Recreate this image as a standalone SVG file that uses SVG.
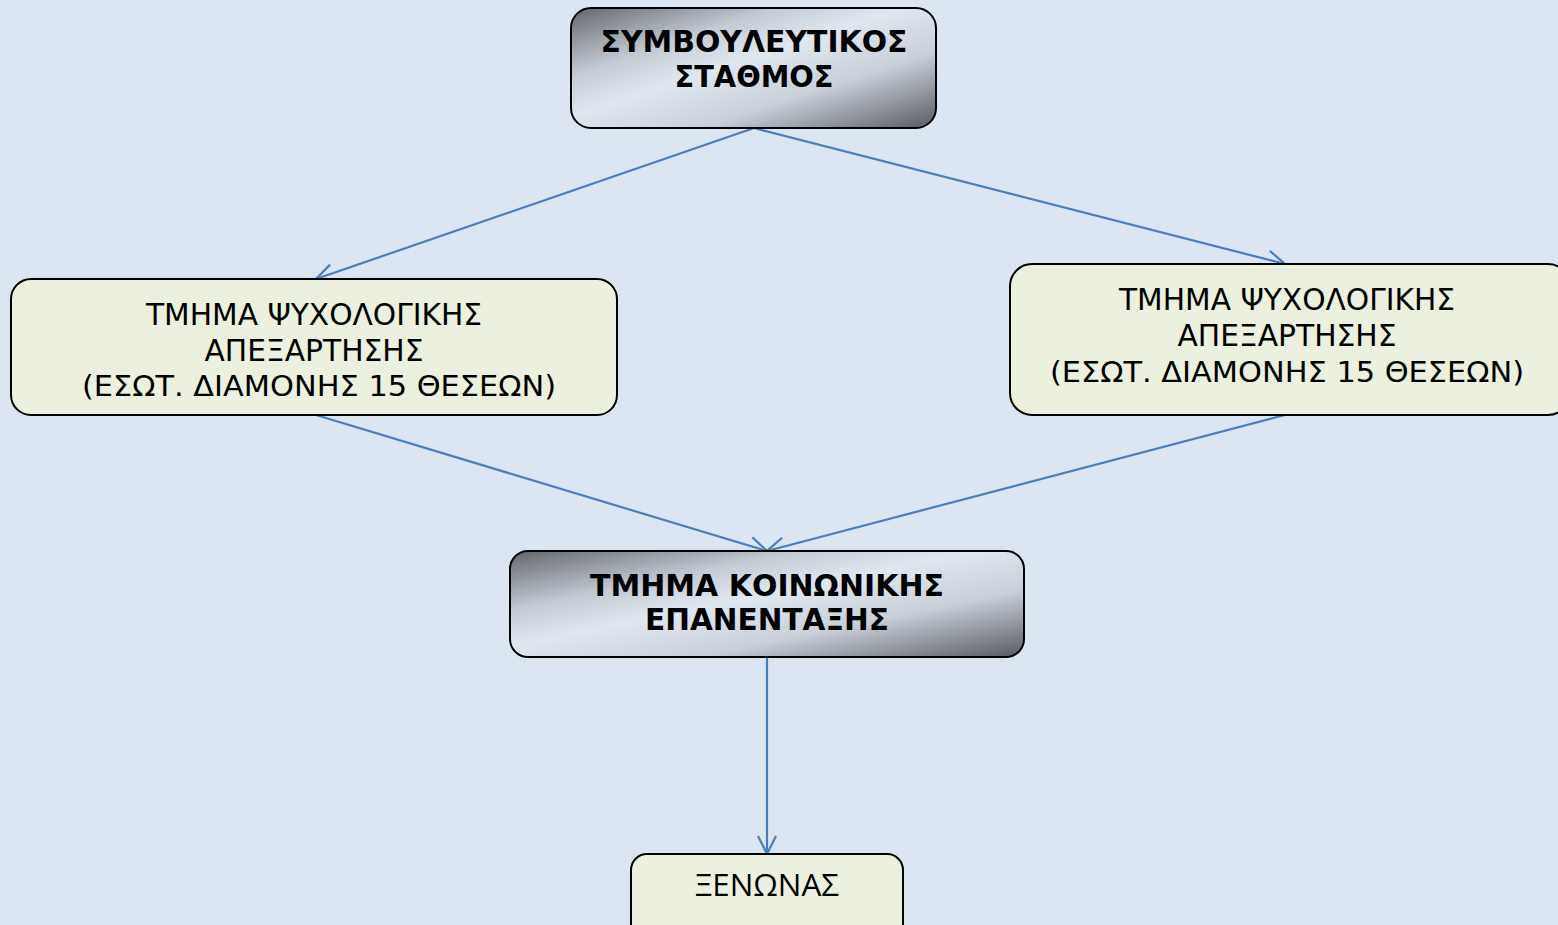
<svg xmlns="http://www.w3.org/2000/svg" width="1558" height="925" viewBox="0 0 1558 925">
<defs>
<linearGradient id="metal" x1="0" y1="0" x2="1" y2="1">
<stop offset="0" stop-color="#62656c"/>
<stop offset="0.28" stop-color="#c3cad4"/>
<stop offset="0.45" stop-color="#dfe7f1"/>
<stop offset="0.68" stop-color="#c9d0da"/>
<stop offset="1" stop-color="#575a61"/>
</linearGradient>
<marker id="arr" viewBox="0 0 24 24" refX="21" refY="12" markerWidth="24" markerHeight="24" markerUnits="userSpaceOnUse" orient="auto">
<path d="M3,3 L21,12 L3,21" fill="none" stroke="#4a7ebb" stroke-width="2.2"/>
</marker>
<style>
.light{fill:#ebf1de;stroke:#000;stroke-width:2}
.dark{fill:url(#metal);stroke:#000;stroke-width:2}
.tl{font-family:"DejaVu Sans Condensed","DejaVu Sans",sans-serif;font-size:31px;fill:#000;text-anchor:middle}
.tv{font-family:"DejaVu Sans","Liberation Sans",sans-serif;font-size:29px;fill:#000;text-anchor:middle}
.tb{font-family:"DejaVu Sans","Liberation Sans",sans-serif;font-weight:bold;font-size:30px;fill:#000;text-anchor:middle}
.tc{font-family:"Open Sans","Liberation Sans",sans-serif;font-size:31px;fill:#000;text-anchor:middle}
.c{stroke:#4a7ebb;stroke-width:2.2;fill:none;marker-end:url(#arr)}
</style>
</defs>
<rect width="1558" height="925" fill="#dce6f2"/>
<g id="connectors">
<line class="c" x1="754" y1="128" x2="316" y2="279"/>
<line class="c" x1="754" y1="128" x2="1285" y2="264"/>
<line class="c" x1="316" y1="415" x2="767" y2="551"/>
<line class="c" x1="1285" y1="415" x2="767" y2="551"/>
<line class="c" x1="767" y1="657" x2="767" y2="854"/>
</g>
<g id="node-top">
<rect class="dark" x="571" y="8" width="365" height="120" rx="20"/>
<text class="tb" x="754" y="52" textLength="307" lengthAdjust="spacingAndGlyphs">ΣΥΜΒΟΥΛΕΥΤΙΚΟΣ</text>
<text class="tb" x="754" y="87" textLength="159" lengthAdjust="spacingAndGlyphs">ΣΤΑΘΜΟΣ</text>
</g>
<g id="node-left">
<rect class="light" x="11" y="279" width="606" height="136" rx="20"/>
<text class="tl" x="314" y="325" textLength="336" lengthAdjust="spacingAndGlyphs">ΤΜΗΜΑ ΨΥΧΟΛΟΓΙΚΗΣ</text>
<text class="tl" x="314" y="361" textLength="219" lengthAdjust="spacingAndGlyphs">ΑΠΕΞΑΡΤΗΣΗΣ</text>
<text class="tv" x="319" y="396" textLength="474" lengthAdjust="spacingAndGlyphs">(ΕΣΩΤ. ΔΙΑΜΟΝΗΣ 15 ΘΕΣΕΩΝ)</text>
</g>
<g id="node-right">
<rect class="light" x="1010" y="264" width="560" height="151" rx="22"/>
<text class="tl" x="1287" y="310" textLength="336" lengthAdjust="spacingAndGlyphs">ΤΜΗΜΑ ΨΥΧΟΛΟΓΙΚΗΣ</text>
<text class="tl" x="1287" y="346" textLength="219" lengthAdjust="spacingAndGlyphs">ΑΠΕΞΑΡΤΗΣΗΣ</text>
<text class="tv" x="1287" y="382" textLength="474" lengthAdjust="spacingAndGlyphs">(ΕΣΩΤ. ΔΙΑΜΟΝΗΣ 15 ΘΕΣΕΩΝ)</text>
</g>
<g id="node-middle">
<rect class="dark" x="510" y="551" width="514" height="106" rx="18"/>
<text class="tb" x="767" y="596" textLength="354" lengthAdjust="spacingAndGlyphs">ΤΜΗΜΑ ΚΟΙΝΩΝΙΚΗΣ</text>
<text class="tb" x="767" y="630" textLength="244" lengthAdjust="spacingAndGlyphs">ΕΠΑΝΕΝΤΑΞΗΣ</text>
</g>
<g id="node-bottom">
<rect class="light" x="631" y="854" width="272" height="100" rx="16"/>
<text class="tc" x="767" y="896" textLength="144" lengthAdjust="spacingAndGlyphs">ΞΕΝΩΝΑΣ</text>
</g>
</svg>
